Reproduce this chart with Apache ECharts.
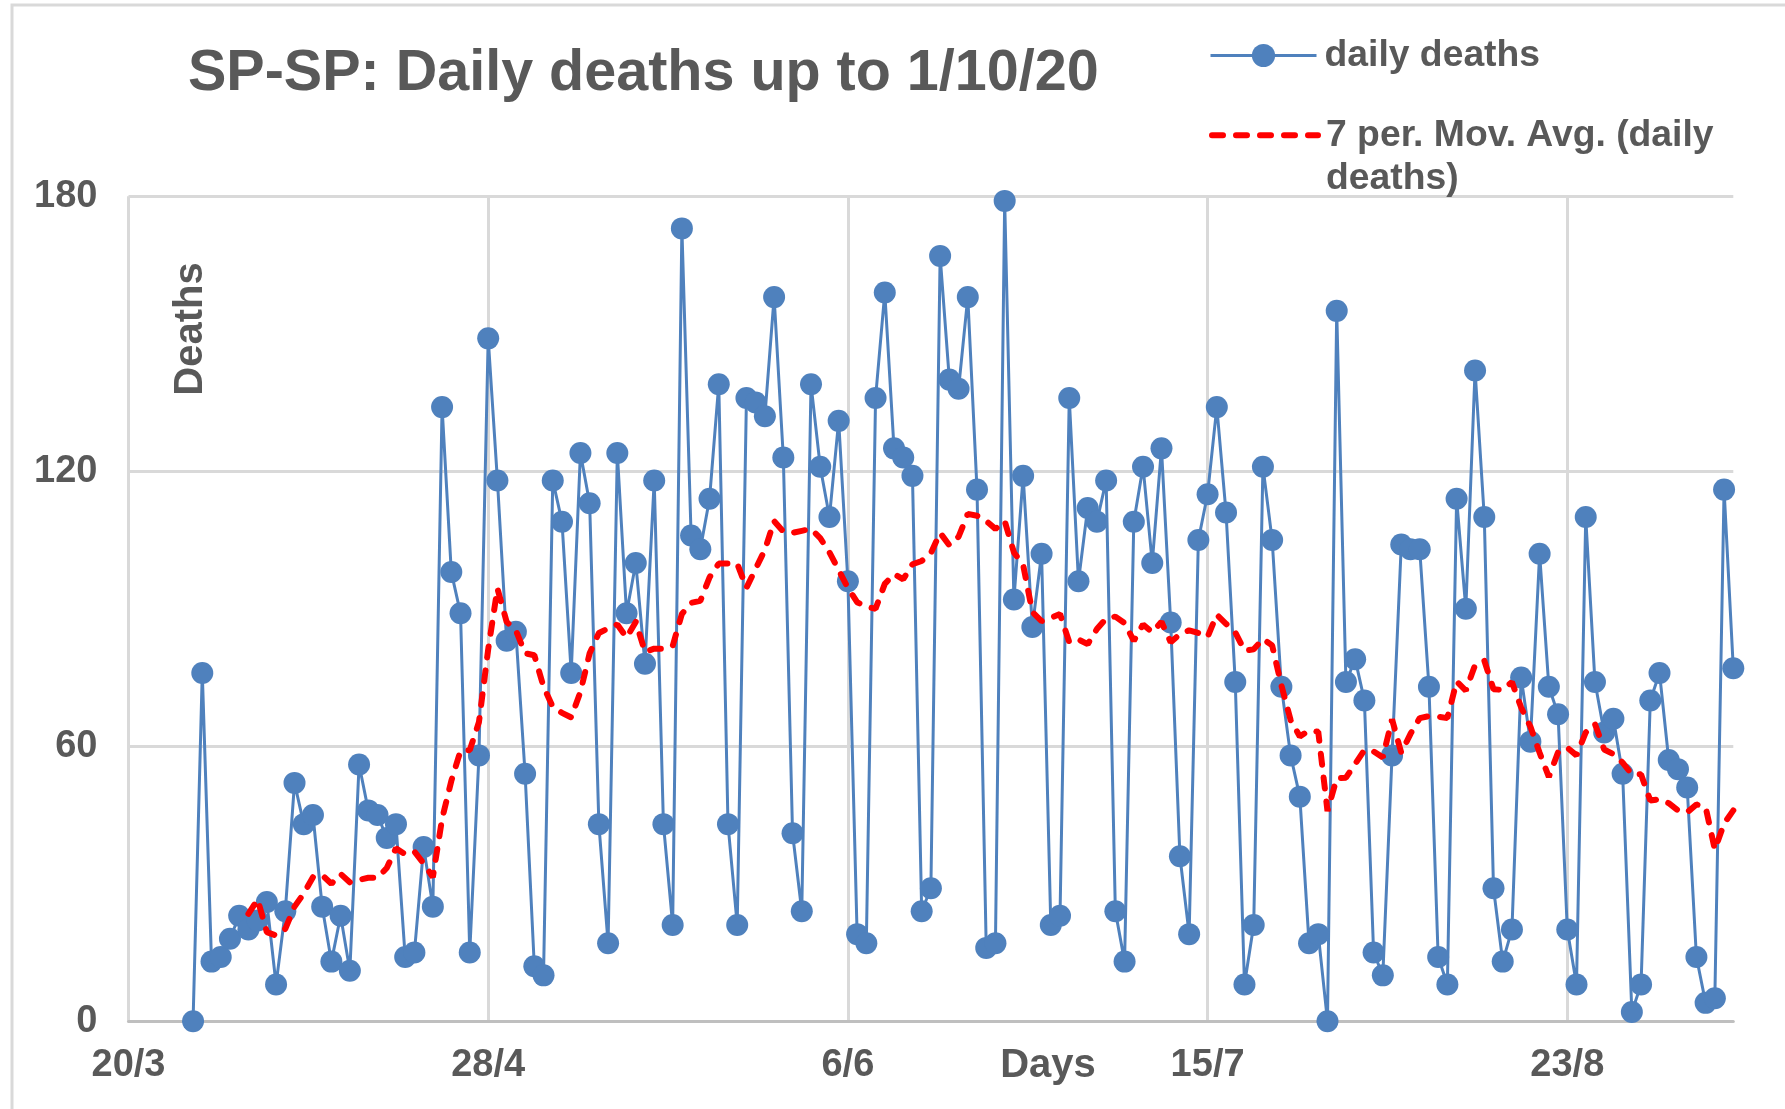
<!DOCTYPE html>
<html>
<head>
<meta charset="utf-8">
<script src="https://cdn.jsdelivr.net/npm/echarts@6/dist/echarts.min.js"></script>
<style>
  html, body { margin: 0; padding: 0; background: #ffffff; }
  #chart { width: 1785px; height: 1109px; }
</style>
</head>
<body>
<div id="chart"></div>
<script>
// ---- data ----
// x axis: day offset from 20/3 (day 0); last day shown = 174
const axisDayCount = 175;
const tickEvery = 39;
const tickLabels = ['20/3', '28/4', '6/6', '15/7', '23/8'];
// first observation is 27/3 (day 7)
const firstDay = 7;
const dailyDeaths = [
  0, 76, 13, 14, 18, 23, 20, 22, 26, 8,
  24, 52, 43, 45, 25, 13, 23, 11, 56, 46,
  45, 40, 43, 14, 15, 38, 25, 134, 98, 89,
  15, 58, 149, 118, 83, 85, 54, 12, 10, 118,
  109, 76, 124, 113, 43, 17, 124, 89, 100, 78,
  118, 43, 21, 173, 106, 103, 114, 139, 43, 21,
  136, 135, 132, 158, 123, 41, 24, 139, 121, 110,
  131, 96, 19, 17, 136, 159, 125, 123, 119, 24,
  29, 167, 140, 138, 158, 116, 16, 17, 179, 92,
  119, 86, 102, 21, 23, 136, 96, 112, 109, 118,
  24, 13, 109, 121, 100, 125, 87, 36, 19, 105,
  115, 134, 111, 74, 8, 21, 121, 105, 73, 58,
  49, 17, 19, 0, 155, 74, 79, 70, 15, 10,
  58, 104, 103, 103, 73, 14, 8, 114, 90, 142,
  110, 29, 13, 20, 75, 61, 102, 73, 67, 20,
  8, 110, 74, 63, 66, 54, 2, 8, 70, 76,
  57, 55, 51, 14, 4, 5, 116, 77
];
const maPeriod = 7;
const yTicks = [0, 60, 120, 180];

const seriesName1 = 'daily deaths';
const seriesName2 = '7 per. Mov. Avg. (daily deaths)';
const legend2Lines = ['7 per. Mov. Avg. (daily', 'deaths)'];
const titleText = 'SP-SP: Daily deaths up to 1/10/20';

// ---- build library inputs ----
const categories = [];
for (let i = 0; i < axisDayCount; i++) categories.push(i);

const dailySeries = categories.map(d => (d >= firstDay && d - firstDay < dailyDeaths.length) ? dailyDeaths[d - firstDay] : null);

// Excel-style trailing moving average trendline of the daily series
const maSeries = categories.map(d => {
  const k = d - firstDay;
  if (k < maPeriod - 1 || k >= dailyDeaths.length) return null;
  let s = 0;
  for (let j = k - maPeriod + 1; j <= k; j++) s += dailyDeaths[j];
  return +(s / maPeriod).toFixed(2);
});

const FONT = "'Liberation Sans', Arial, sans-serif";
const TXT = '#595959';

const chart = echarts.init(document.getElementById('chart'), null, { renderer: 'canvas' });

chart.setOption({
  backgroundColor: '#ffffff',
  animation: false,
  title: {
    text: titleText,
    left: 188,
    top: 45,
    padding: 0,
    textStyle: { fontFamily: FONT, fontWeight: 'bold', fontSize: 57.5, color: TXT }
  },
  legend: [
    {
      data: [seriesName1],
      orient: 'vertical',
      left: 1209,
      top: 37,
      padding: 0,
      itemWidth: 106,
      itemHeight: 29,
      lineStyle: { width: 3 },
      textStyle: { fontFamily: FONT, fontWeight: 'bold', fontSize: 37.3, color: TXT, lineHeight: 37, padding: [0, 0, 0, 3] }
    },
    {
      data: [seriesName2],
      orient: 'vertical',
      left: 1209,
      top: 70,
      padding: 0,
      itemWidth: 106,
      itemHeight: 29,
      itemStyle: { color: 'rgba(0,0,0,0)', opacity: 0, borderWidth: 0 },
      lineStyle: { width: 6, type: [11, 13], cap: 'round', color: '#FF0000' },
      formatter: function () { return '\n' + legend2Lines.join('\n'); },
      textStyle: { fontFamily: FONT, fontWeight: 'bold', fontSize: 37.3, color: TXT, lineHeight: 43.5, padding: [0, 0, 0, 3] }
    }
  ],
  grid: {
    left: 128.5,
    right: 51.7,
    top: 196.3,
    bottom: 87.8,
    containLabel: false
  },
  xAxis: {
    type: 'category',
    data: categories,
    boundaryGap: false,
    axisLine: { show: true, lineStyle: { color: '#BFBFBF', width: 3 } },
    axisTick: { show: false },
    axisLabel: {
      interval: function (idx) { return idx % tickEvery === 0; },
      formatter: function (val, idx) { return tickLabels[Math.round(idx / tickEvery)] || ''; },
      margin: 25,
      fontFamily: FONT, fontWeight: 'bold', fontSize: 38, color: TXT
    },
    splitLine: {
      show: true,
      interval: function (idx) { return idx % tickEvery === 0; },
      lineStyle: { color: '#D9D9D9', width: 3 }
    }
  },
  yAxis: {
    type: 'value',
    min: yTicks[0],
    max: yTicks[yTicks.length - 1],
    interval: yTicks[1] - yTicks[0],
    axisLine: { show: false },
    axisTick: { show: false },
    axisLabel: {
      margin: 31,
      fontFamily: FONT, fontWeight: 'bold', fontSize: 38, color: TXT
    },
    splitLine: { show: true, lineStyle: { color: '#D9D9D9', width: 3 } }
  },
  series: [
    {
      name: seriesName1,
      type: 'line',
      data: dailySeries,
      symbol: 'circle',
      symbolSize: 22,
      showAllSymbol: true,
      connectNulls: false,
      clip: false,
      color: '#4F81BD',
      itemStyle: { color: '#4F81BD' },
      lineStyle: { color: '#4F81BD', width: 3 },
      z: 2
    },
    {
      name: seriesName2,
      type: 'line',
      data: maSeries,
      symbol: 'none',
      showSymbol: false,
      color: '#FF0000',
      lineStyle: { color: '#FF0000', width: 6, type: [11, 13], cap: 'round' },
      z: 3
    }
  ],
  graphic: [
    {
      type: 'rect',
      silent: true,
      z: -10,
      shape: { x: 12, y: 5, width: 1800, height: 1200 },
      style: { fill: 'none', stroke: '#D9D9D9', lineWidth: 3 }
    },
    {
      type: 'text',
      silent: true,
      x: 191, y: 329,
      rotation: Math.PI / 2,
      style: {
        text: 'Deaths',
        align: 'center', verticalAlign: 'middle',
        font: 'bold 40px ' + FONT,
        fill: TXT
      }
    },
    {
      type: 'text',
      silent: true,
      x: 1048, y: 1066,
      style: {
        text: 'Days',
        align: 'center', verticalAlign: 'middle',
        font: 'bold 40px ' + FONT,
        fill: TXT
      }
    }
  ]
});
</script>
</body>
</html>
